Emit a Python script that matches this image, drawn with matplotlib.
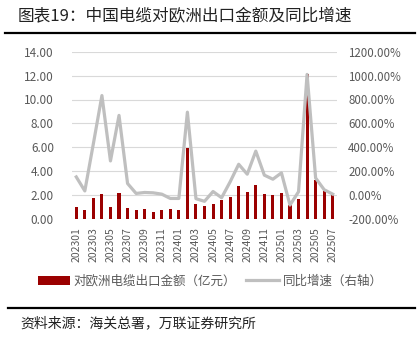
import matplotlib.pyplot as plt
from matplotlib.lines import Line2D

plt.rcParams['font.family'] = ['Noto Sans CJK SC', 'DejaVu Sans']

months = [
    "202301", "202302", "202303", "202304", "202305", "202306", "202307", "202308",
    "202309", "202310", "202311", "202312", "202401", "202402", "202403", "202404",
    "202405", "202406", "202407", "202408", "202409", "202410", "202411", "202412",
    "202501", "202502", "202503", "202504", "202505", "202506", "202507",
]
export_value = [
    1.00, 0.72, 1.75, 2.08, 1.00, 2.14, 0.89, 0.72, 0.83, 0.58, 0.78, 0.83, 0.72,
    5.95, 1.28, 1.08, 1.28, 1.61, 1.86, 2.78, 2.25, 2.83, 2.08, 1.97, 2.19, 1.17,
    1.69, 12.10, 3.25, 2.36, 2.00,
]
yoy_growth = [
    152, 35, 430, 833, 286, 667, 97, 14, 22, 19, 8, -28, -28,
    694, -30, -52, 30, -22, 111, 258, 175, 368, 167, 133, 186, -83,
    28, 1010, 143, 45, 8,
]

BAR_COLOR = "#9B0000"
LINE_COLOR = "#BFBFBF"
TEXT_COLOR = "#595959"

fig = plt.figure(figsize=(4.2, 3.39), dpi=100)

# title and frame lines
fig.text(18 / 420, 1 - 17 / 339, "图表19：中国电缆对欧洲出口金额及同比增速",
         fontsize=12, va="center", ha="left", color="#222222")
fig.add_artist(Line2D([5 / 420, 415 / 420], [1 - 33 / 339] * 2, color="black", lw=1.6))
fig.add_artist(Line2D([8 / 420, 415 / 420], [1 - 308 / 339] * 2, color="black", lw=1.6))
fig.text(20 / 420, 1 - 323 / 339, "资料来源：海关总署，万联证券研究所",
         fontsize=10, va="center", ha="left", color="#222222", style="italic")

ax = fig.add_axes([72 / 420, 1 - 219 / 339, 265 / 420, (219 - 51.7) / 339])
x = list(range(len(months)))
ax.bar(x, export_value, width=0.36, color=BAR_COLOR, zorder=2,
       label="对欧洲电缆出口金额（亿元）")
ax.set_xlim(-0.5, len(months) - 0.5)
ax.set_ylim(0, 14)
ax.set_yticks(range(0, 15, 2))
ax.set_yticklabels([f"{v:.2f}" for v in range(0, 15, 2)])
ax.grid(axis="y", color="#D9D9D9", lw=0.8, zorder=0)
ax.set_xticks(x[::2])
ax.set_xticklabels(months[::2], rotation=90)
for s in ax.spines.values():
    s.set_visible(False)
ax.tick_params(length=0, colors=TEXT_COLOR)
ax.tick_params(axis="y", pad=13, labelsize=8.5)
ax.tick_params(axis="x", pad=6, labelsize=7.5)

ax2 = ax.twinx()
ax2.plot(x, yoy_growth, color=LINE_COLOR, lw=2.3, zorder=3, label="同比增速（右轴）")
ax2.set_ylim(-200, 1200)
ax2.set_yticks(range(-200, 1201, 200))
ax2.set_yticklabels([f"{v:.2f}%" for v in range(-200, 1201, 200)])
for s in ax2.spines.values():
    s.set_visible(False)
ax2.tick_params(length=0, colors=TEXT_COLOR, labelsize=8.3, pad=8)

h1, l1 = ax.get_legend_handles_labels()
h2, l2 = ax2.get_legend_handles_labels()
fig.legend(h1 + h2, l1 + l2, loc="center", bbox_to_anchor=(0.5, 1 - 281 / 339),
           ncol=2, frameon=False, fontsize=9, labelcolor=TEXT_COLOR,
           handlelength=2.6, handleheight=0.7, columnspacing=0.8, handletextpad=0.3)

fig.savefig("out.png", dpi=100)
